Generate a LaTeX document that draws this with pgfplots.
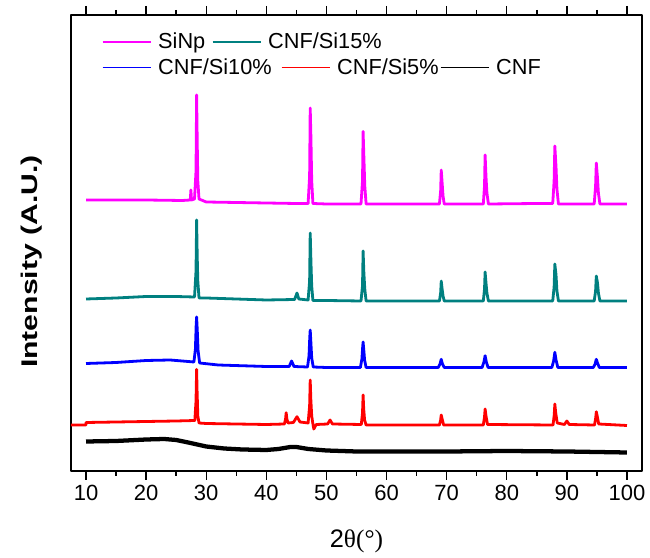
\documentclass[border=0pt]{standalone}
\usepackage{graphicx}
\usepackage{fontspec}
\setmainfont{Liberation Sans}
\newfontfamily\seriffont{Liberation Serif}
\usepackage{pgfplots}
\pgfplotsset{compat=1.18}
\definecolor{xrdmag}{RGB}{255,0,255}
\definecolor{xrdteal}{RGB}{0,128,128}
\definecolor{xrdblue}{RGB}{0,0,255}
\definecolor{xrdred}{RGB}{255,0,0}
\definecolor{xrdblk}{RGB}{0,0,0}
\pgfplotsset{
  baseaxis/.style={
    width=428.25pt, height=342pt, scale only axis,
    at={(0pt,0pt)}, anchor=south west,
    xmin=7.5, xmax=102.5, ymin=0, ymax=456,
    line join=round,
  },
  mylegend/.style={
    legend style={draw=none, fill=none, inner sep=0pt, outer sep=0pt,
      column sep=0pt, row sep=0pt,
      font=\fontsize{16.3}{19}\selectfont,
      nodes={inner sep=0pt, outer sep=0pt},
      /tikz/every odd column/.append style={column sep=5.25pt},
      /tikz/every even column/.append style={column sep=5pt}},
    legend image code/.code={\draw[##1, line width=0.9pt] (0pt,0pt) -- (36pt,0pt);},
    legend columns=-1,
  },
  legaxis/.style={baseaxis, axis line style={draw=none}, xtick=\empty, ytick=\empty, mylegend},
}
\begin{document}
\begin{tikzpicture}
\begin{axis}[baseaxis,
  xtick={10,20,...,100}, minor x tick num=1, ytick=\empty,
  tick align=outside, xtick pos=both,
  major tick length=6.75pt, minor tick length=3.75pt,
  axis line style={line width=1.2pt},
  every tick/.style={line width=1.1pt, black},
  /pgf/number format/assume math mode=true,
  xticklabel style={font=\fontsize{16.5}{19}\selectfont},
  xlabel={2{\seriffont θ(°)}},
  ylabel={\scalebox{1.33}[1]{\bfseries Intensity (A.U.)}},
  every axis x label/.style={at={(axis description cs:0.5,-0.168)}, anchor=base, font=\fontsize{19}{22}\selectfont},
  every axis y label/.style={at={(axis description cs:-0.0683,0.4594)}, rotate=90, anchor=center, font=\fontsize{17}{20}\selectfont},
  mylegend,
  legend style={at={(axis description cs:0.0543,0.9408)}, anchor=west},
]
% CNF
\addplot[xrdblk, line width=3.2pt, forget plot] coordinates {
(10,29.5)(15,30)(20,31.5)(23,32)(25,31)(27,28.5)(30,24.5)(33,22.5)(36,21.5)(40,21)(42,22)(44,24)(45,24)(47,22)(50,20.5)(55,19.5)(60,19.5)(70,19.5)(80,20)(90,19.5)(100,18.5)};
% CNF/Si5%
\addplot[xrdred, line width=2.1pt, forget plot] coordinates {
(7.5,46)(10,46)(10,48.5)(15,49)(20,49.5)(25,50)(28.1,50.5)(28.3,70)(28.4,101.7)(28.48,80)(28.6,55)(28.8,48)(30,47.5)(35,47)(40,46.5)
(43.0,47)(43.2,52)(43.3,58.3)(43.42,52)(43.6,48)(44.5,48.5)(45.1,54.3)(45.6,49)
(46.95,48)(47.2,65)(47.3,91)(47.4,72)(47.55,55)(47.75,47)(47.9,42)(48.3,46.5)
(50.2,47)(50.6,51)(51.0,47)
(55.8,46.5)(56.0,58)(56.1,76)(56.2,62)(56.35,51)(56.6,46)(60,46)
(68.8,46)(69.0,51)(69.1,56)(69.25,52)(69.5,46)
(76.1,46)(76.3,54)(76.4,62)(76.55,55)(76.8,46.5)
(87.7,46)(87.9,56)(88.0,67)(88.15,58)(88.4,48)
(89.6,46.5)(90.0,50)(90.4,46.5)
(94.6,46)(94.8,53)(94.9,59.3)(95.05,55)(95.3,47)(100,45.5)};
% CNF/Si10%
\addplot[xrdblue, line width=2.1pt, forget plot] coordinates {
(10,107.5)(15,108.5)(20,110.5)(24,111)(27,109.5)
(27.95,109)(28.2,122)(28.32,145)(28.4,154)(28.5,142)(28.65,120)(28.9,108)
(32,106)(40,104.5)(43.8,104.5)(44.2,110)(44.6,104.5)
(46.85,104)(47.1,115)(47.22,133)(47.3,141)(47.4,130)(47.55,113)(47.8,104)
(50,103.5)
(55.65,103.5)(55.9,112)(56.03,124)(56.1,129)(56.2,122)(56.35,111)(56.6,103.5)
(68.6,103.5)(68.9,107)(69.1,111.7)(69.3,107)(69.6,103.5)
(75.9,103.5)(76.2,109)(76.4,115.3)(76.6,109)(76.9,103.5)
(87.5,103.5)(87.8,110)(88.0,118.7)(88.2,111)(88.5,103.5)
(94.4,103.5)(94.7,107)(94.9,111.7)(95.1,108)(95.4,103.5)
(100,103.5)};
% CNF/Si15%
\addplot[xrdteal, line width=2.1pt, forget plot] coordinates {
(10,172)(15,173)(20,174.5)(25,174.5)(28.05,174)(28.3,200)(28.4,251)(28.5,215)(28.6,190)(28.8,173)
(30,173)(35,172)(40,171)(44.7,171.5)(45.1,178)(45.4,172)
(46.95,171)(47.2,190)(47.3,238)(47.42,210)(47.55,185)(47.75,170.5)(50,170.5)
(55.75,170)(56.0,185)(56.1,220)(56.23,198)(56.38,182)(56.6,170)
(68.8,170)(69.0,178)(69.1,190)(69.25,182)(69.4,175)(69.6,170)
(76.1,170)(76.3,182)(76.4,199)(76.55,188)(76.7,178)(76.95,170)
(87.65,170)(87.88,184)(88.0,207)(88.2,196)(88.35,180)(88.6,170)
(94.55,170)(94.78,180)(94.9,195)(95.1,188)(95.25,178)(95.5,170)
(100,170)};
% SiNp
\addplot[xrdmag, line width=2.1pt, forget plot] coordinates {
(10,271)(20,271)(26,270.5)(27.35,271)(27.45,281)(27.55,271)
(28.05,272)(28.3,300)(28.4,376)(28.5,330)(28.6,290)(28.8,272)
(30,269)(35,268.5)(40,268)(45,267.5)
(46.95,267.5)(47.2,295)(47.3,363)(47.42,333)(47.55,290)(47.75,267.5)(50,267)
(55.75,267)(56.0,290)(56.1,339.5)(56.23,314)(56.38,285)(56.6,267)(60,267)
(68.8,267)(69.0,280)(69.1,301)(69.25,288)(69.4,275)(69.6,267)
(76.1,267)(76.3,285)(76.4,316)(76.55,294)(76.7,278)(76.95,267)
(85,267.5)(87.65,267.5)(87.88,290)(88.0,325)(88.2,304)(88.35,282)(88.6,267)
(94.55,267)(94.78,285)(94.9,308)(95.1,293)(95.25,278)(95.5,267)
(100,267)};
\addlegendimage{color=xrdmag}\addlegendentry{SiNp}
\addlegendimage{color=xrdteal}\addlegendentry{CNF/Si15\%}
\end{axis}
\begin{axis}[legaxis, legend style={at={(axis description cs:0.0543,0.8849)}, anchor=west}]
\addplot[draw=none, forget plot] coordinates {(50,200)};
\addlegendimage{color=xrdblue}\addlegendentry{CNF/Si10\%}
\end{axis}
\begin{axis}[legaxis, legend style={at={(axis description cs:0.3678,0.8849)}, anchor=west}]
\addplot[draw=none, forget plot] coordinates {(50,200)};
\addlegendimage{color=xrdred}\addlegendentry{CNF/Si5\%}
\end{axis}
\begin{axis}[legaxis, legend style={at={(axis description cs:0.6462,0.8849)}, anchor=west}]
\addplot[draw=none, forget plot] coordinates {(50,200)};
\addlegendimage{color=xrdblk}\addlegendentry{CNF}
\end{axis}
\path (-53.25pt,-64.5pt) rectangle (434.25pt,353.25pt);
\end{tikzpicture}
\end{document}
